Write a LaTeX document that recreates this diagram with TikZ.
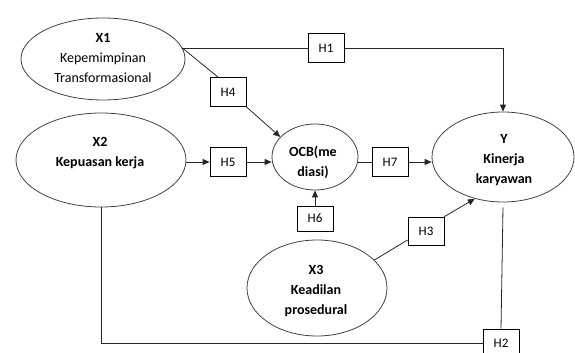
\documentclass[tikz,border=0pt]{standalone}
\usepackage{fontspec}
\setmainfont{Carlito}
\usetikzlibrary{shapes.geometric,arrows.meta}
\begin{document}
\begin{tikzpicture}[x=1pt,y=-1pt,
  oval/.style={ellipse,draw=black!75,line width=0.8pt,inner sep=0pt},
  hbox/.style={draw=black,line width=0.8pt,minimum width=36pt,minimum height=29pt,inner sep=0pt,font=\fontsize{13}{15}\selectfont},
  txt/.style={align=center,font=\fontsize{14}{20}\selectfont},
  conn/.style={line width=0.8pt,draw=black!85},
  arr/.style={conn,-{Triangle[length=7pt,width=6pt]}}]
\useasboundingbox (0,0) rectangle (575,353);
\clip (0,0) rectangle (575,353);
% ellipses
\node[oval,minimum width=164pt,minimum height=82pt] (X1) at (103,59) {};
\node[oval,minimum width=170pt,minimum height=94pt] (X2) at (101,160) {};
\node[oval,minimum width=86pt,minimum height=66pt] (OCB) at (315,157) {};
\node[oval,minimum width=142pt,minimum height=90pt] (Y) at (503,157) {};
\node[oval,minimum width=140pt,minimum height=96pt] (X3) at (317,288) {};
% texts
\node[txt] (tX1) at (103,58) {\textbf{X1}\\Kepemimpinan\\Transformasional};
\node[txt] (tX2) at (100,153) {\textbf{X2}\\\textbf{Kepuasan kerja}};
\node[txt] (tOCB) at (313,162) {\textbf{OCB(me}\\\textbf{diasi)}};
\node[txt] (tY) at (504,160) {\textbf{Y}\\\textbf{Kinerja}\\\textbf{karyawan}};
\node[txt] (tX3) at (316,291) {\textbf{X3}\\\textbf{Keadilan}\\\textbf{prosedural}};
% hypothesis boxes
\node[hbox] (H1) at (326,48) {H1};
\node[hbox] (H4) at (228,92) {H4};
\node[hbox] (H5) at (228,162) {H5};
\node[hbox] (H7) at (390,162) {H7};
\node[hbox,minimum height=25pt] (H6) at (315,218.5) {H6};
\node[hbox,minimum height=28pt] (H3) at (426,231) {H3};
\node[hbox] (H2) at (501,343.5) {H2};
% connectors
\draw[conn] (H1.west -| X1.8) -- (H1.west);
\draw[arr] (H1.east) -| (Y.north);
\draw[conn] (H1.west -| X1.8) -- ([xshift=-10pt]H4.north);
\draw[arr] (H4.south east) -- (OCB.150);
\draw[arr] (H5.west -| X2.east) -- (H5.west);
\draw[arr] (H5.east) -- (H5.east -| OCB.west);
\draw[conn] (H7.west -| OCB.east) -- (H7.west);
\draw[arr] (H7.east) -- (H7.east -| Y.west);
\draw[arr] (H6.north) -- (OCB.south);
\draw[conn] (X3.26) -- ([yshift=-9pt]H3.west);
\draw[arr] (H3.north east) -- (Y.236);
\draw[conn] (X2.south) |- (H2.west);
\draw[conn] ([yshift=-5pt]Y.south) -- (H2.north);
\end{tikzpicture}
\end{document}
